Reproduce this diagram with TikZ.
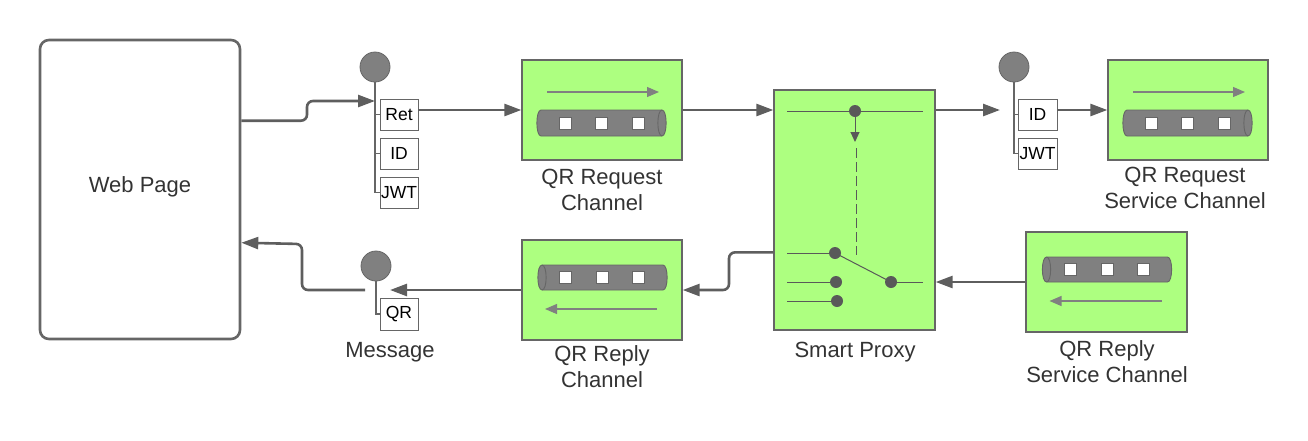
\documentclass[tikz,border=0pt]{standalone}
\usepackage{fontspec}
\setmainfont{Liberation Sans}
\usetikzlibrary{arrows.meta,calc}
\definecolor{chgreen}{HTML}{ADFF80}
\definecolor{edge}{HTML}{666666}
\definecolor{conncol}{HTML}{5E5E5E}
\definecolor{dotcol}{HTML}{595959}
\definecolor{pipecol}{HTML}{808080}
\definecolor{labcol}{HTML}{333333}
\tikzset{
  webbox/.style={draw=edge, line width=2.6pt, rounded corners=9pt, minimum width=200pt, minimum height=299pt, inner sep=0pt},
  chanbox/.style={draw=edge, fill=chgreen, line width=1.3pt, minimum width=160pt, minimum height=100pt, inner sep=0pt},
  proxybox/.style={draw=edge, fill=chgreen, line width=1.3pt, minimum width=161pt, minimum height=240pt, inner sep=0pt},
  msgdot/.style={circle, draw=edge, fill=pipecol, line width=0.8pt, minimum size=30pt, inner sep=0pt},
  field/.style={draw=edge, fill=white, line width=0.9pt, minimum width=38pt, minimum height=31pt, inner sep=0pt, font=\fontsize{17.5}{20}\selectfont},
  lab/.style={align=center, text=labcol, font=\fontsize{22}{26}\selectfont},
  conn/.style={draw=conncol, line width=2.6pt, -{Triangle[length=17pt,width=12pt]}},
  stem/.style={draw=edge, line width=1.1pt},
  pipe/.style={draw=edge, fill=pipecol, line width=0.9pt},
  slot/.style={draw=edge, fill=white, line width=0.7pt},
  flow/.style={draw=pipecol, line width=1.2pt, -{Triangle[length=12pt,width=10pt]}},
  wire/.style={draw=dotcol, line width=1pt},
  swdot/.style={fill=dotcol},
}
\newcommand{\pipeForward}{%
  \filldraw[pipe] (-61,0) -- (60,0) .. controls (65.5,0) and (65.5,26) .. (60,26) -- (-61,26) .. controls (-66.5,26) and (-66.5,0) .. (-61,0) -- cycle;
  \draw[pipe, fill=none] (60,0) .. controls (54.5,0) and (54.5,26) .. (60,26);
  \foreach \sx in {-36.5,-1,36.5} {\filldraw[slot] (\sx-6,7) rectangle (\sx+6,19);}
  \draw[flow] (-55,-18) -- (57,-18);
}
\newcommand{\pipeBackward}{%
  \filldraw[pipe] (-60,-25) -- (61,-25) .. controls (66.5,-25) and (66.5,0) .. (61,0) -- (-60,0) .. controls (-65.5,0) and (-65.5,-25) .. (-60,-25) -- cycle;
  \draw[pipe, fill=none] (-60,-25) .. controls (-54.5,-25) and (-54.5,0) .. (-60,0);
  \foreach \sx in {-36.5,0.5,36.5} {\filldraw[slot] (\sx-6,-18.5) rectangle (\sx+6,-6.5);}
  \draw[flow] (55,19) -- (-57,19);
}
\begin{document}
\begin{tikzpicture}[x=1pt,y=-1pt]
\useasboundingbox (0,0) rectangle (1308,440);
% nodes
\node[webbox] (web) at (140,189.5) {};
\node[lab] (weblab) at (140,187) {Web Page};

\node[msgdot] (m1dot) at (375,67) {};
\node[field] (ret) at (399,114.5) {Ret};
\node[field] (id1) at (399,153.5) {ID};
\node[field] (jwt1) at (399,192.5) {JWT};

\node[chanbox] (reqch) at (602,110) {};
\node[lab] (reqchlab) at (602,190) {QR Request\\Channel};

\node[proxybox] (proxy) at (854.5,210) {};
\node[lab] (proxylab) at (855,352) {Smart Proxy};

\node[msgdot] (m2dot) at (1014,67) {};
\node[field, minimum width=39pt] (id2) at (1037.5,114.5) {ID};
\node[field, minimum width=39pt] (jwt2) at (1037.5,153.5) {JWT};

\node[chanbox] (reqsvc) at (1188,110) {};
\node[lab] (reqsvclab) at (1185,188) {QR Request\\Service Channel};

\node[chanbox, minimum width=161pt] (repsvc) at (1106.5,282) {};
\node[lab] (repsvclab) at (1107,362) {QR Reply\\Service Channel};

\node[chanbox] (repch) at (602,290) {};
\node[lab] (repchlab) at (602,367) {QR Reply\\Channel};

\node[msgdot] (m3dot) at (376,266) {};
\node[field, minimum height=32pt] (qr) at (399,314) {QR};
\node[lab] (msglab) at (390,352) {Message};

% pipes inside channels
\begin{scope}[shift={(reqch.center)}] \pipeForward \end{scope}
\begin{scope}[shift={(reqsvc.center)}] \pipeForward \end{scope}
\begin{scope}[shift={(repch.center)}] \pipeBackward \end{scope}
\begin{scope}[shift={(repsvc.center)}] \pipeBackward \end{scope}

% message stems
\draw[stem] (m1dot.south) |- (jwt1.west);
\draw[stem] (m1dot.south |- ret.west) -- (ret.west);
\draw[stem] (m1dot.south |- id1.west) -- (id1.west);
\draw[stem] (m2dot.south) |- (jwt2.west);
\draw[stem] (m2dot.south |- id2.west) -- (id2.west);
\draw[stem] (m3dot.south) |- (qr.west);

% proxy internals
\coordinate (pt1) at (855,111);
\coordinate (ps1) at (835,253);
\coordinate (ps2) at (836,282);
\coordinate (ps3) at (837,301);
\coordinate (psw) at (891,282);
\draw[wire] (787,111) -- (923,111);
\draw[wire, -{Triangle[length=10pt,width=9pt]}] (pt1) -- (855,142);
\draw[wire, dash pattern=on 10pt off 4pt] (856,148) -- (856,255);
\draw[wire] (787,253) -- (ps1);
\draw[wire] (787,282) -- (ps2);
\draw[wire] (787,301) -- (ps3);
\draw[wire] (ps1) -- (psw);
\draw[wire] (psw) -- (923,282);
\foreach \p in {pt1,ps1,ps2,ps3,psw} {\fill[swdot] (\p) circle (6pt);}

% connectors
\coordinate (m1in) at (375,101);
\coordinate (m2in) at (1000,110);
\coordinate (m3in) at (390,290);
\coordinate (m3out) at (365,290);
\draw[conn, rounded corners=6pt] ($(web.north east)+(0,82)$) -| (307,101) -- (m1in);
\draw[conn] (ret.east |- reqch.west) -- (reqch.west);
\draw[conn] (reqch.east) -- (reqch.east -| proxy.west);
\draw[conn] (proxy.east |- reqch.east) -- (m2in);
\draw[conn] (id2.east |- reqsvc.west) -- (reqsvc.west);
\draw[conn] (repsvc.west) -- (repsvc.west -| proxy.east);
\draw[conn, rounded corners=6pt] ($(proxy.north west)+(0,163)$) -| (729,290) -- (repch.east);
\draw[conn] (repch.west) -- (m3in);
\draw[conn, rounded corners=6pt] (m3out) -| (302,244) -- ($(web.north east)+(0,204)$);
\end{tikzpicture}
\end{document}
